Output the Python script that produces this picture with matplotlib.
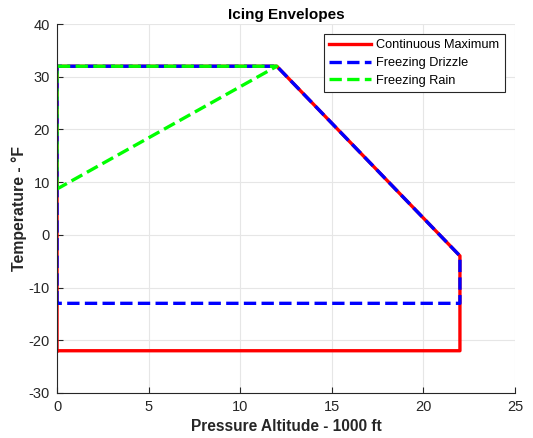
#!/usr/bin/env python3
"""Icing envelopes: temperature vs pressure altitude."""

import matplotlib
matplotlib.use("Agg")
import matplotlib.pyplot as plt

# envelope outlines (pressure altitude in 1000 ft, temperature in deg F)
cont_max_alt = [0, 0, 12, 22, 22, 0]
cont_max_temp = [-22, 32, 32, -4, -22, -22]
drizzle_alt = [0, 0, 12, 22, 22, 0]
drizzle_temp = [-13, 32, 32, -4, -13, -13]
rain_alt = [0, 0, 12, 0]
rain_temp = [8.7, 32, 32, 8.7]

x_ticks = [0, 5, 10, 15, 20, 25]
y_ticks = [-30, -20, -10, 0, 10, 20, 30, 40]

plt.rcParams["font.family"] = ["Liberation Sans", "DejaVu Sans"]
plt.rcParams["axes.unicode_minus"] = False
tick_grey = "#262626"

fig = plt.figure(figsize=(5.33, 4.38), dpi=100)
ax = fig.add_axes([0.107, 0.103, 0.859, 0.842])

ax.plot(cont_max_alt, cont_max_temp, color="red", lw=2.4, label="Continuous Maximum")
ax.plot(drizzle_alt, drizzle_temp, color="blue", lw=2.4, ls="--", label="Freezing Drizzle")
ax.plot(rain_alt, rain_temp, color="#00ff00", lw=2.4, ls="--", label="Freezing Rain")

ax.set_xlim(0, 25); ax.set_ylim(-30, 40)
ax.set_xticks(x_ticks); ax.set_yticks(y_ticks)
ax.grid(True, color="#e6e6e6", lw=0.8)
ax.set_axisbelow(True)
for side in ("top", "right"):
    ax.spines[side].set_visible(False)
for side in ("left", "bottom"):
    ax.spines[side].set_color(tick_grey); ax.spines[side].set_linewidth(0.8)
ax.tick_params(direction="in", length=4, width=0.8, colors=tick_grey, labelsize=10.5, pad=5)

ax.set_title("Icing Envelopes", fontsize=11, fontweight="bold", pad=4)
ax.set_xlabel("Pressure Altitude - 1000 ft", fontsize=11.2, fontweight="bold", color=tick_grey, labelpad=4)
ax.set_ylabel("Temperature - \u00b0F", fontsize=11.4, fontweight="bold", color=tick_grey, labelpad=1)

leg = ax.legend(loc="upper right", fontsize=9.2, fancybox=False, framealpha=1,
                edgecolor=tick_grey, handlelength=3.3, handletextpad=0.4,
                labelspacing=0.45, borderaxespad=0.8)
leg.get_frame().set_linewidth(0.8)

fig.savefig("out.png", dpi=100)
plt.close(fig)
